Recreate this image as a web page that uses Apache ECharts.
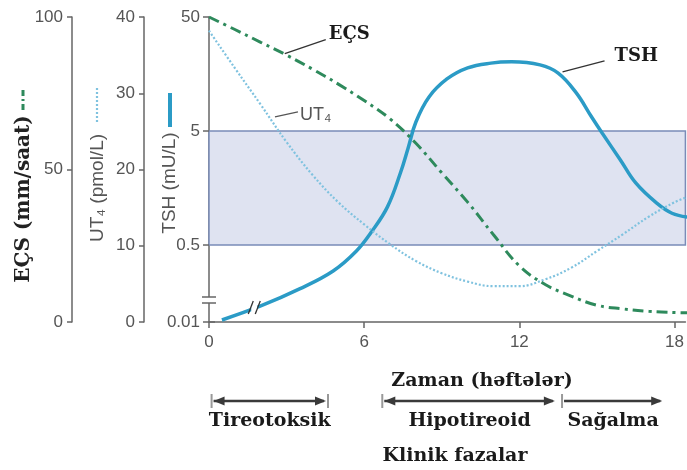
<!DOCTYPE html>
<html>
<head>
<meta charset="utf-8">
<script src="https://cdn.jsdelivr.net/npm/echarts@6/dist/echarts.min.js"></script>
<style>
html,body{margin:0;padding:0;background:#fff}
#chart{width:687px;height:470px}
</style>
</head>
<body>
<div id="chart"></div>
<script>
// EÇS (mm/saat)
const ecsWeeks  = [0, 1, 2, 3, 4, 5, 6, 7, 8, 9, 10, 11, 12, 13, 14, 15, 16, 17, 18, 18.5];
const ecsValues = [100, 95.9, 91.7, 87.5, 82.9, 78, 72.6, 66.6, 58.6, 48.9, 39.3, 28.6, 18.4, 12.3, 8.5, 5.5, 4.3, 3.5, 3.1, 3];
// UT4 (pmol/L)
const ut4Weeks  = [0, 1, 2, 3, 4, 5, 6, 7, 8, 9, 10, 11, 12, 13, 14, 15, 16, 17, 18, 18.5];
const ut4Values = [38.2, 33.3, 28.5, 23.6, 19.3, 15.7, 12.8, 10.2, 8, 6.4, 5.3, 4.7, 4.7, 5.6, 7.1, 9.3, 11.5, 13.8, 15.7, 16.4];
// TSH (mU/L), log axis
const tshWeeks  = [0.5, 2, 3.5, 4.8, 5.7, 6.3, 6.9, 7.4, 7.7, 8, 8.5, 9.2, 10, 10.9, 11.7, 12.8, 13.5, 14.2, 14.8, 15.2, 15.9, 16.5, 17.3, 17.9, 18.5];
const tshValues = [0.11, 0.146, 0.206, 0.296, 0.443, 0.66, 1.08, 2.14, 3.55, 6, 9.9, 14.3, 17.9, 19.7, 20.2, 19, 16.1, 10.8, 6.6, 4.8, 2.8, 1.75, 1.17, 0.95, 0.88];

const weekTicks = [0, 6, 12, 18];
const tshTicks = [50, 5, 0.5];
const tshBottom = 0.1056;      // axis floor, shown as 0.01 below the break
const tshNormal = [0.5, 5];    // reference range band
const phaseNames = ['Tireotoksik', 'Hipotireoid', 'Sağalma'];
const phaseStart = [0.1, 6.7, 13.65];
const phaseEnd   = [4.6, 13.45, 17.6];

const axisColor = '#666';
const labelColor = '#555';
const sans = 'Liberation Sans, Arial, DejaVu Sans, sans-serif';
const serifBold = 'bold 19px DejaVu Serif, serif';
const ecsColor = '#2e8a5c';
const ut4Color = '#7fc2df';
const tshColor = '#2b9bc6';

const pairs = (xs, ys) => xs.map((x, i) => [x, ys[i]]);

const chart = echarts.init(document.getElementById('chart'));

const yAxisBase = (offset) => ({
    type: 'value', position: 'left', offset,
    axisLine: {show: true, onZero: false, lineStyle: {color: axisColor, width: 1.5}},
    axisTick: {show: true, length: 5, lineStyle: {color: axisColor, width: 1.5}},
    axisLabel: {fontSize: 17, color: labelColor, fontFamily: sans, margin: 9},
    splitLine: {show: false}
});

const option = {
    animation: false,
    backgroundColor: '#fff',
    grid: {left: 209, right: 1, top: 17, bottom: 148},
    xAxis: {
        type: 'value', min: 0, max: 18.42,
        axisLine: {onZero: false, lineStyle: {color: axisColor, width: 1.5}},
        axisTick: {show: true, length: 6, customValues: weekTicks, lineStyle: {color: axisColor, width: 1.5}},
        axisLabel: {customValues: weekTicks, fontSize: 17, color: labelColor, fontFamily: sans, margin: 12},
        splitLine: {show: false}
    },
    yAxis: [
        Object.assign(yAxisBase(137), {min: 0, max: 100, interval: 50}),   // EÇS
        Object.assign(yAxisBase(65), {min: 0, max: 40, interval: 10}),     // UT4
        {   // TSH
            type: 'log', logBase: 10, position: 'left', offset: 0, min: tshBottom, max: 50,
            axisLine: {show: true, onZero: false, lineStyle: {color: axisColor, width: 1.5}},
            axisTick: {show: false},
            axisLabel: {show: false},
            splitLine: {show: false}
        }
    ],
    series: [
        {
            name: 'TSH', type: 'line', yAxisIndex: 2, smooth: 0.4, showSymbol: false,
            data: pairs(tshWeeks, tshValues),
            lineStyle: {color: tshColor, width: 3.5},
            markArea: {
                silent: true,
                itemStyle: {color: '#dfe3f1', borderColor: '#7a8cb8', borderWidth: 1.5},
                data: [[{yAxis: tshNormal[0]}, {yAxis: tshNormal[1]}]]
            }
        },
        {
            name: 'UT4', type: 'line', yAxisIndex: 1, smooth: 0.4, showSymbol: false,
            data: pairs(ut4Weeks, ut4Values),
            lineStyle: {color: ut4Color, width: 2.2, type: [2, 2]}
        },
        {
            name: 'EÇS', type: 'line', yAxisIndex: 0, smooth: 0.4, showSymbol: false,
            data: pairs(ecsWeeks, ecsValues),
            lineStyle: {color: ecsColor, width: 3, type: [11, 5, 3, 5]}
        }
    ]
};
chart.setOption(option);

function drawExtras() {
    const g = [];
    const text = (x, y, str, font, fill, align, rot) => g.push({
        type: 'text', x, y, rotation: rot || 0, z: 10,
        style: {text: str, font, fill, textAlign: align || 'center', align: align || 'center',
                textVerticalAlign: 'middle', verticalAlign: 'middle'}
    });
    const line = (x1, y1, x2, y2, stroke, w, dash) => g.push({
        type: 'line', z: 10, shape: {x1, y1, x2, y2}, style: {stroke, lineWidth: w, lineDash: dash || null}
    });
    const tri = (x, y, dir) => g.push({
        type: 'polygon', z: 10,
        shape: {points: [[x, y], [x - dir * 11, y - 4.5], [x - dir * 11, y + 4.5]]},
        style: {fill: '#3a3a3a'}
    });
    const toPx = (si, w, v) => chart.convertToPixel({seriesIndex: si}, [w, v]);
    const tshY = v => chart.convertToPixel({yAxisIndex: 2}, v);

    // TSH axis ticks and labels on the log scale
    const axX = 209;
    tshTicks.forEach(v => {
        const y = tshY(v);
        line(axX - 6, y, axX, y, axisColor, 1.5);
        text(axX - 9, y, String(v), '17px ' + sans, labelColor, 'right');
    });
    const yb = tshY(tshBottom);
    line(axX - 6, yb, axX + 6, yb, axisColor, 1.5);
    text(axX - 9, yb, '0.01', '17px ' + sans, labelColor, 'right');
    // axis break
    g.push({type: 'rect', z: 10, shape: {x: axX - 3, y: yb - 25, width: 6, height: 6}, style: {fill: '#fff'}});
    line(axX - 7, yb - 25, axX + 7, yb - 25, axisColor, 1.5);
    line(axX - 7, yb - 19, axX + 7, yb - 19, axisColor, 1.5);

    // break on the TSH curve
    const bp = toPx(0, 1.75, 0.14);
    g.push({type: 'rect', z: 10, shape: {x: bp[0] - 3, y: bp[1] - 5, width: 6, height: 10}, style: {fill: '#fff'}});
    line(bp[0] - 6, bp[1] + 6, bp[0] - 1, bp[1] - 7, '#333', 1.3);
    line(bp[0] + 1, bp[1] + 6, bp[0] + 6, bp[1] - 7, '#333', 1.3);

    // axis names with line keys
    text(24, 199, 'EÇS (mm/saat)', 'bold 20px DejaVu Serif, serif', '#222', 'center', Math.PI / 2);
    line(23, 90, 23, 110, ecsColor, 3, [6, 3, 2, 3]);
    text(98, 188, 'UT₄ (pmol/L)', '19px ' + sans, labelColor, 'center', Math.PI / 2);
    line(97, 88, 97, 124, ut4Color, 2.2, [2, 2]);
    text(170, 183, 'TSH (mU/L)', '19px ' + sans, labelColor, 'center', Math.PI / 2);
    line(170, 93, 170, 127, tshColor, 4);

    // curve annotations
    const a1 = toPx(2, 2.93, 88);
    line(a1[0], a1[1], a1[0] + 41, a1[1] - 14, '#333', 1.3);
    text(a1[0] + 44, a1[1] - 19, 'EÇS', 'bold 18px DejaVu Serif, serif', '#1a1a1a', 'left');
    const a2 = toPx(1, 2.55, 26.9);
    line(a2[0], a2[1], a2[0] + 23, a2[1] - 5, '#555', 1.2);
    text(a2[0] + 25, a2[1] - 2, 'UT₄', '18px ' + sans, labelColor, 'left');
    const a3 = toPx(0, 13.67, 16.5);
    line(a3[0], a3[1], a3[0] + 42, a3[1] - 11, '#333', 1.3);
    text(a3[0] + 52, a3[1] - 16, 'TSH', 'bold 18px DejaVu Serif, serif', '#1a1a1a', 'left');

    // x axis title
    text(482, 381, 'Zaman (həftələr)', serifBold, '#1a1a1a');

    // clinical phases
    const ay = 401;
    phaseNames.forEach((name, i) => {
        const x1 = toPx(2, phaseStart[i], 0)[0];
        const x2 = toPx(2, phaseEnd[i], 0)[0];
        line(x1, ay - 7, x1, ay + 7, '#999', 2);
        if (i === 0) line(x2, ay - 7, x2, ay + 7, '#999', 2);
        line(x1 + 2, ay, x2 - 4, ay, '#3a3a3a', 2.5);
        if (i < 2) tri(x1 + 2, ay, -1);
        tri(x2 - 2, ay, 1);
        text((x1 + x2) / 2, ay + 20, name, serifBold, '#1a1a1a');
    });
    text(455, 456, 'Klinik fazalar', serifBold, '#1a1a1a');

    chart.setOption({graphic: g});
}
drawExtras();
</script>
</body>
</html>
